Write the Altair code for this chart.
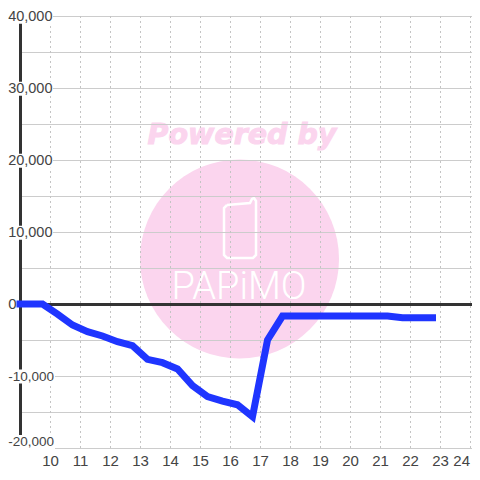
import altair as alt
import pandas as pd

hours = [9, 9.75, 10.25, 10.75, 11.25, 11.75, 12.25, 12.75, 13.25, 13.75, 14.25, 14.75, 15.25, 15.75, 16.25, 16.75, 17.25, 17.75, 18.25, 18.75, 19.25, 19.75, 20.25, 20.75, 21.25, 21.75, 22.25, 22.75]
values = [0, 0, -1400, -2920, -3840, -4440, -5230, -5790, -7690, -8150, -9030, -11340, -12870, -13500, -14000, -15650, -5000, -1670, -1670, -1670, -1670, -1670, -1670, -1670, -1670, -1920, -1920, -1920]
x_ticks = list(range(10, 24))
last_tick = 24
grid_hours = list(range(10, 25))
grid_values = list(range(-20000, 40001, 5000))
pos_label_at = [39900, 29900, 19900, 9900]
pos_label_text = ["40,000", "30,000", "20,000", "10,000"]
neg_label_at = [-10080, -19170]
neg_label_text = ["-10,000", "-20,000"]
icon_x = [15.90, 16.667, 16.733, 16.80, 16.867, 16.867, 16.767, 15.90, 15.80, 15.80, 15.90]
icon_y = [13750, 14028, 14583, 14720, 14306, 6806, 6389, 6389, 6806, 13333, 13750]

X = alt.Scale(domain=[9, 24.0667], nice=False, zero=False, padding=0)
Y = alt.Scale(domain=[-20000, 40000], nice=False, zero=False, padding=0)
x_axis = alt.Axis(
    title=None, values=x_ticks, format="d", grid=False, domain=False, ticks=False,
    labelFont="Liberation Sans", labelFontSize=15, labelColor="#444444", labelPadding=5,
    labelFlush=False, labelOverlap=False)
xe = lambda f: alt.X(f, type="quantitative", scale=X, axis=x_axis)
ye = lambda f: alt.Y(f, type="quantitative", scale=Y, axis=None)

line_df = pd.DataFrame({"h": hours, "v": values})
pos_df = pd.DataFrame({"p": pos_label_at, "t": pos_label_text})
neg_df = pd.DataFrame({"p": neg_label_at, "t": neg_label_text})
grid_df = pd.DataFrame({"v": grid_values})
xt_df = pd.DataFrame({"h": grid_hours})
icon_df = pd.DataFrame({"h": icon_x, "v": icon_y, "i": list(range(len(icon_x)))})

PINK = "#fbd5ee"
INK = "#444444"

circle = alt.Chart(pd.DataFrame({"h": [16.317], "v": [6250]})).mark_point(
    shape="circle", filled=True, color=PINK, opacity=1, size=39600
).encode(x=xe("h"), y=ye("v"))
powered = alt.Chart(pd.DataFrame({"h": [16.4], "v": [23500], "t": ["Powered by"]})).mark_text(
    font="DejaVu Sans", fontWeight="bold", fontStyle="italic", fontSize=28.5, color=PINK,
    stroke=PINK, strokeWidth=1, align="center", baseline="middle"
).encode(x=xe("h"), y=ye("v"), text="t:N")
icon = alt.Chart(icon_df).mark_line(color="white", strokeWidth=2.5).encode(x=xe("h"), y=ye("v"), order="i:Q")
brand = alt.Chart(pd.DataFrame({"h": [16.3], "v": [2250], "t": ["PAPiMO"]})).mark_text(
    font="Roboto", fontWeight=300, fontSize=38, color="white", align="center", baseline="middle"
).encode(x=xe("h"), y=ye("v"), text="t:N")

hgrid = alt.Chart(grid_df).mark_rule(color="#cccccc", strokeWidth=1, yOffset=0.5).encode(y=ye("v"))
vgrid = alt.Chart(xt_df).mark_rule(color="#c4c4c4", strokeWidth=1, strokeDash=[2, 3], xOffset=0.5).encode(x=xe("h"))
zero = alt.Chart(pd.DataFrame({"v": [0]})).mark_rule(color="#333333", strokeWidth=3, yOffset=0.5).encode(y=ye("v"))
yaxis = alt.Chart(pd.DataFrame({"h": [9]})).mark_rule(color="#333333", strokeWidth=3, xOffset=0.5).encode(x=xe("h"))

pos_bg = alt.Chart(pos_df).mark_bar(color="white", size=14, orient="horizontal").encode(
    x=alt.value(-12), x2=alt.value(33), y=ye("p"))
neg_bg = alt.Chart(neg_df).mark_bar(color="white", size=14, orient="horizontal").encode(
    x=alt.value(-12), x2=alt.value(35), y=ye("p"))
pos_labels = alt.Chart(pos_df).mark_text(
    font="Liberation Sans", fontSize=14.5, color=INK, align="right", baseline="middle"
).encode(x=alt.value(32.5), y=ye("p"), text="t:N")
neg_labels = alt.Chart(neg_df).mark_text(
    font="Liberation Sans", fontSize=13.5, color=INK, align="right", baseline="middle"
).encode(x=alt.value(34), y=ye("p"), text="t:N")
zero_label = alt.Chart(pd.DataFrame({"v": [0], "t": ["0"]})).mark_text(
    font="Liberation Sans", fontSize=15, color=INK, align="right", baseline="middle"
).encode(x=alt.value(-3.5), y=ye("v"), text="t:N")
last_label = alt.Chart(pd.DataFrame({"h": [last_tick], "t": [str(last_tick)]})).mark_text(
    font="Liberation Sans", fontSize=15, color=INK, align="right", baseline="middle"
).encode(x=xe("h"), y=alt.value(444.7), text="t:N")

series = alt.Chart(line_df).mark_line(color="#1f35ff", strokeWidth=7, strokeCap="square", strokeJoin="miter").encode(
    x=xe("h"), y=ye("v"))

chart = alt.layer(
    circle, powered, icon, brand, hgrid, vgrid, zero, yaxis,
    pos_bg, neg_bg, pos_labels, neg_labels, zero_label, last_label, series
).properties(
    width=452, height=432,
    padding={"left": 12, "top": 8, "right": 0, "bottom": 24},
    autosize=alt.AutoSizeParams(type="none"),
    background="white",
).configure_view(stroke=None)

chart.save("out.html", embed_options={"renderer": "svg", "actions": False})
